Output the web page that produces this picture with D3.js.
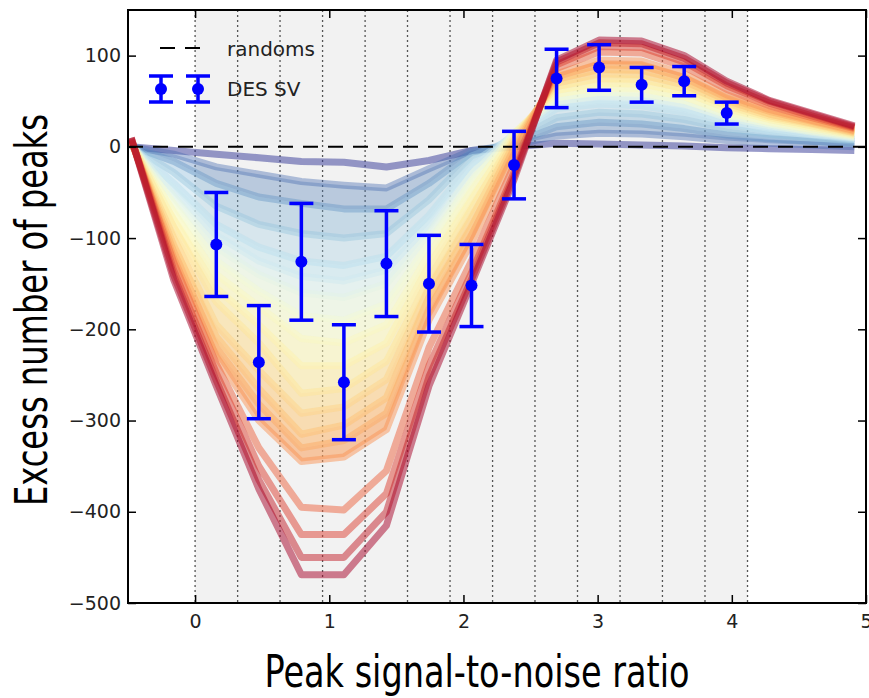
<!DOCTYPE html>
<html>
<head>
<meta charset="utf-8">
<script src="https://cdn.jsdelivr.net/npm/d3@7"></script>
<style>
  body { margin: 0; background: #fff; }
  svg { display: block; }
</style>
</head>
<body>
<div id="chart"></div>
<script>
// ---- data ----
// grid of S/N values the model curves are sampled on
var snrGrid = [-0.476, -0.159, 0.158, 0.475, 0.792, 1.109, 1.426, 1.743, 2.060,
               2.377, 2.694, 3.011, 3.328, 3.645, 3.962, 4.279, 4.596, 4.913];

// colour parameter of each model curve (0 = blue end, 1 = red end)
var modelLevel = [0, 0.08, 0.15, 0.25, 0.33, 0.37, 0.42, 0.46, 0.50, 0.54,
                  0.58, 0.62, 0.66, 0.70, 0.74, 0.82, 0.88, 0.94, 1.0];

// excess peak counts of each model curve on snrGrid
var modelCurves = [
  [0, -4, -8, -12, -16, -17, -22, -15, -4, 0, 4, 3, 2, 1, -1, -2, -3, -4],
  [0, -8, -22, -30, -38, -42, -45, -24, -4, 2, 12, 15, 14, 11, 7, 4, 2, 0],
  [1, -16, -40, -55, -62, -68, -68, -40, -6, 4, 22, 27, 25, 20, 13, 9, 6, 3],
  [1, -28, -65, -85, -95, -100, -95, -58, -10, 8, 32, 38, 36, 30, 20, 14, 10, 6],
  [2, -40, -85, -110, -125, -130, -120, -75, -18, 12, 42, 47, 45, 38, 26, 18, 13, 8],
  [2, -47, -97, -125, -142, -147, -135, -85, -24, 14, 46, 52, 50, 43, 29, 20, 14, 9],
  [3, -55, -110, -140, -160, -165, -150, -95, -30, 15, 50, 56, 55, 47, 32, 23, 16, 10],
  [3, -63, -125, -158, -185, -190, -172, -106, -38, 15, 54, 60, 59, 51, 35, 25, 17, 11],
  [4, -72, -140, -175, -210, -215, -195, -118, -48, 15, 58, 65, 64, 55, 38, 27, 19, 12],
  [4, -80, -155, -195, -240, -240, -215, -130, -58, 13, 62, 70, 69, 60, 42, 30, 21, 13],
  [5, -88, -170, -215, -270, -265, -235, -145, -68, 10, 66, 75, 74, 64, 45, 32, 23, 14],
  [5, -100, -195, -245, -292, -285, -255, -155, -78, 7, 70, 80, 79, 68, 48, 34, 25, 15],
  [6, -108, -208, -265, -315, -305, -275, -165, -88, 3, 74, 85, 84, 72, 51, 36, 26, 16],
  [6, -115, -220, -282, -330, -322, -292, -178, -97, -2, 77, 90, 89, 76, 54, 39, 28, 17],
  [7, -122, -230, -300, -345, -340, -310, -190, -105, -8, 80, 95, 94, 80, 57, 41, 29, 18],
  [8, -127, -238, -330, -395, -398, -355, -220, -125, -20, 86, 104, 103, 88, 63, 45, 32, 20],
  [9, -135, -248, -350, -425, -425, -380, -240, -138, -28, 90, 110, 109, 93, 67, 48, 34, 21],
  [10, -141, -256, -365, -450, -450, -400, -252, -145, -32, 93, 114, 113, 97, 70, 50, 36, 22],
  [10, -146, -262, -375, -469, -469, -415, -262, -150, -36, 95, 117, 116, 100, 72, 51, 37, 23]
];

// DES SV measurement
var binEdges = [0, 0.317, 0.633, 0.950, 1.267, 1.583, 1.900, 2.217, 2.533,
                2.850, 3.167, 3.483, 3.800, 4.117];
var binCenters = [0.158, 0.475, 0.792, 1.109, 1.426, 1.743, 2.060, 2.377,
                  2.694, 3.011, 3.328, 3.645, 3.962];
var desValues = [-107, -236, -126, -258, -128, -150, -152, -20, 75, 87, 68, 72, 37];
var desErrors = [57, 62, 64, 63, 58, 53, 45, 37, 32, 25, 19, 16, 12];

var xTicks = [0, 1, 2, 3, 4, 5];
var yTicks = [-500, -400, -300, -200, -100, 0, 100];

// ---- layout ----
var margin = {top: 10, right: 3, bottom: 95, left: 128},
    width = 869 - margin.left - margin.right,
    height = 698 - margin.top - margin.bottom;

var svg = d3.select("#chart")
  .append("svg")
    .attr("width", 869)
    .attr("height", 698);

var g = svg.append("g")
    .attr("transform", "translate(" + margin.left + "," + margin.top + ")");

var x = d3.scaleLinear().domain([-0.5, 5]).range([0, width]);
var y = d3.scaleLinear().domain([-500, 150]).range([height, 0]);

var colour = function(t) { return d3.interpolateRdYlBu(1 - t); };

g.append("clipPath").attr("id", "plotclip")
  .append("rect").attr("width", width).attr("height", height);

// shaded range of the measurement bins
g.append("rect")
    .attr("x", x(binEdges[0]))
    .attr("y", 0)
    .attr("width", x(binEdges[binEdges.length - 1]) - x(binEdges[0]))
    .attr("height", height)
    .attr("fill", "#f2f2f2");

// bin edges
g.selectAll(".edge")
  .data(binEdges)
  .enter().append("line")
    .attr("class", "edge")
    .attr("x1", d => x(d)).attr("x2", d => x(d))
    .attr("y1", 0).attr("y2", height)
    .attr("stroke", "#555")
    .attr("stroke-width", 1.3)
    .attr("stroke-dasharray", "2,3");

// model curves
var curvePts = modelCurves.map(c => c.map((v, i) => [snrGrid[i], v]));
var fan = g.append("g").attr("clip-path", "url(#plotclip)");

var band = d3.area()
    .x(d => x(d[0]))
    .y0(d => y(d[1]))
    .y1(d => y(d[2]));

// fill between neighbouring curves in the dense part of the fan
for (var i = 1; i < 14; i++) {
  var pair = snrGrid.map((s, k) => [s, modelCurves[i][k], modelCurves[i + 1][k]]);
  fan.append("path")
      .attr("d", band(pair))
      .attr("fill", colour((modelLevel[i] + modelLevel[i + 1]) / 2))
      .attr("fill-opacity", i < 4 ? 0.35 : 0.55);
}

var line = d3.line()
    .x(d => x(d[0]))
    .y(d => y(d[1]));

fan.selectAll(".model")
  .data(curvePts)
  .enter().append("path")
    .attr("class", "model")
    .attr("d", line)
    .attr("fill", "none")
    .attr("stroke", (d, i) => colour(modelLevel[i]))
    .attr("stroke-width", 7)
    .attr("stroke-opacity", (d, i) => (i > 0 && i < 4) ? 0.4 : 0.5)
    .attr("stroke-linejoin", "round");

// randoms reference line
g.append("line")
    .attr("x1", 0).attr("x2", width)
    .attr("y1", y(0)).attr("y2", y(0))
    .attr("stroke", "#000")
    .attr("stroke-width", 2)
    .attr("stroke-dasharray", "15,10");

// DES SV error bars
var des = binCenters.map((c, i) => ({x: c, y: desValues[i], e: desErrors[i]}));
var eb = g.selectAll(".eb").data(des).enter().append("g").attr("class", "eb");
eb.append("line")
    .attr("x1", d => x(d.x)).attr("x2", d => x(d.x))
    .attr("y1", d => y(d.y + d.e)).attr("y2", d => y(d.y - d.e))
    .attr("stroke", "#0000ff").attr("stroke-width", 3.5);
[1, -1].forEach(function(s) {
  eb.append("line")
      .attr("x1", d => x(d.x) - 12).attr("x2", d => x(d.x) + 12)
      .attr("y1", d => y(d.y + s * d.e)).attr("y2", d => y(d.y + s * d.e))
      .attr("stroke", "#0000ff").attr("stroke-width", 3.5);
});
eb.append("circle")
    .attr("cx", d => x(d.x)).attr("cy", d => y(d.y))
    .attr("r", 6).attr("fill", "#0000ff");

// axes with inward ticks
var tickFont = "'DejaVu Sans', sans-serif";
var yAxis = g.append("g")
    .call(d3.axisLeft(y).tickValues(yTicks).tickSize(-8).tickPadding(7));
var yAxisR = g.append("g")
    .attr("transform", "translate(" + width + ",0)")
    .call(d3.axisRight(y).tickValues(yTicks).tickSize(-8).tickFormat(""));
var xAxis = g.append("g")
    .attr("transform", "translate(0," + height + ")")
    .call(d3.axisBottom(x).tickValues(xTicks).tickSize(-8).tickPadding(12).tickFormat(d3.format("d")));
var xAxisT = g.append("g")
    .call(d3.axisTop(x).tickValues(xTicks).tickSize(-8).tickFormat(""));

[yAxis, yAxisR, xAxis, xAxisT].forEach(function(a) {
  a.select(".domain").remove();
  a.selectAll(".tick line").attr("stroke", "#000").attr("stroke-width", 1.5);
  a.selectAll("text")
      .attr("font-family", tickFont)
      .attr("font-size", 19)
      .attr("fill", "#222");
});

// frame
g.append("rect")
    .attr("width", width).attr("height", height)
    .attr("fill", "none").attr("stroke", "#000").attr("stroke-width", 2);

// legend
var lg = svg.append("g").attr("font-family", tickFont).attr("font-size", 20).attr("fill", "#222");
lg.append("line")
    .attr("x1", 160).attr("x2", 200).attr("y1", 48).attr("y2", 48)
    .attr("stroke", "#000").attr("stroke-width", 2).attr("stroke-dasharray", "15,10");
lg.append("text").attr("x", 227).attr("y", 56).text("randoms");
[161, 198].forEach(function(cx) {
  lg.append("line").attr("x1", cx).attr("x2", cx).attr("y1", 76).attr("y2", 102)
      .attr("stroke", "#0000ff").attr("stroke-width", 3.5);
  [76, 102].forEach(function(cy) {
    lg.append("line").attr("x1", cx - 12).attr("x2", cx + 12).attr("y1", cy).attr("y2", cy)
        .attr("stroke", "#0000ff").attr("stroke-width", 3.5);
  });
  lg.append("circle").attr("cx", cx).attr("cy", 89).attr("r", 6).attr("fill", "#0000ff");
});
lg.append("text").attr("x", 227).attr("y", 96).text("DES SV");

// axis titles
var titleFont = "'Liberation Sans Narrow', 'DejaVu Sans Condensed', sans-serif";
svg.append("text")
    .attr("x", 477).attr("y", 687)
    .attr("text-anchor", "middle")
    .attr("font-family", titleFont)
    .attr("font-size", 44)
    .attr("textLength", 425)
    .attr("lengthAdjust", "spacingAndGlyphs")
    .attr("fill", "#000")
    .text("Peak signal-to-noise ratio");

svg.append("text")
    .attr("transform", "translate(47,310) rotate(-90)")
    .attr("text-anchor", "middle")
    .attr("font-family", titleFont)
    .attr("font-size", 44)
    .attr("textLength", 392)
    .attr("lengthAdjust", "spacingAndGlyphs")
    .attr("fill", "#000")
    .text("Excess number of peaks");
</script>
</body>
</html>
